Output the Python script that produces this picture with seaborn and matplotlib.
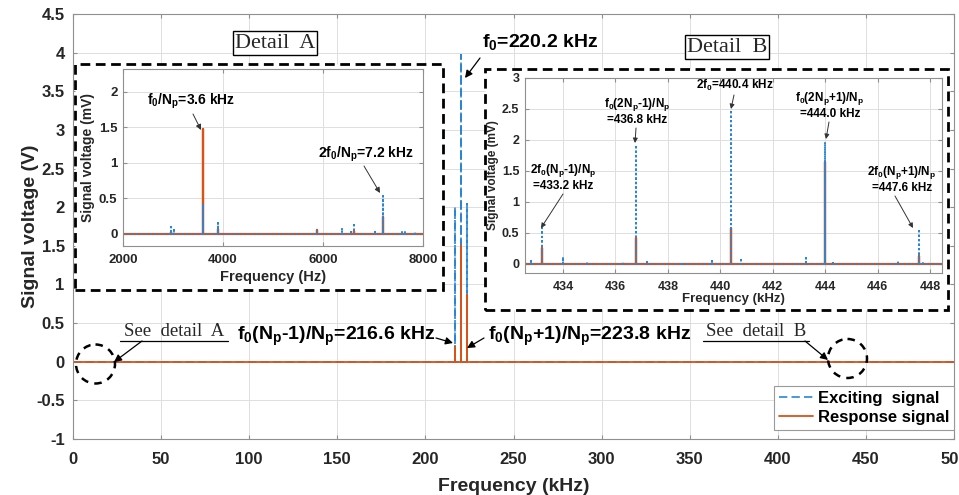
import numpy as np
import pandas as pd
import matplotlib
matplotlib.use("Agg")
import matplotlib.pyplot as plt
import seaborn as sns
from matplotlib.patches import Rectangle, Ellipse

# ---------------- data ----------------
# main spectrum (kHz, V)
main_freqs = [216.6, 220.2, 223.8]
main_exciting = [2.00, 3.97, 2.04]
main_response = [0.19, 1.50, 0.86]
main_xticks = [0, 50, 100, 150, 200, 250, 300, 350, 400, 450, 500]
main_yticks = [-1, -0.5, 0, 0.5, 1, 1.5, 2, 2.5, 3, 3.5, 4, 4.5]

# detail A (Hz, mV)
a_exc_freqs = [2950, 3020, 3600, 3900, 5870, 6370, 6560, 6620, 7050, 7200, 7580, 7650, 7850]
a_exc_vals = [0.10, 0.05, 0.42, 0.15, 0.03, 0.09, 0.05, 0.16, 0.03, 0.54, 0.04, 0.04, 0.03]
a_res_freqs = [2950, 3600, 3900, 5870, 6620, 7200]
a_res_vals = [0.03, 1.47, 0.07, 0.06, 0.04, 0.24]
a_xticks = [2000, 4000, 6000, 8000]
a_yticks = [0, 0.5, 1, 1.5, 2]

# detail B (kHz, mV)
b_exc_freqs = [432.77, 433.2, 434.0, 434.9, 436.3, 436.8, 437.2, 438.5, 439.7, 440.4,
               440.8, 443.26, 444.0, 444.3, 446.8, 447.6, 447.75]
b_exc_vals = [0.05, 0.58, 0.11, 0.02, 0.03, 1.91, 0.02, 0.01, 0.04, 2.48,
              0.06, 0.09, 1.97, 0.04, 0.04, 0.56, 0.03]
b_res_freqs = [433.2, 436.8, 440.4, 444.0, 447.6]
b_res_vals = [0.25, 0.41, 0.58, 1.65, 0.12]
b_xticks = [434, 436, 438, 440, 442, 444, 446, 448]
b_yticks = [0, 0.5, 1, 1.5, 2, 2.5, 3]

BLUE = "#2a86d4"
ORANGE = "#d95319"
GRID = "#dedede"
SPINE = "#8f8f8f"
TXT = "#262626"

sns.set_style("ticks")
plt.rcParams["font.family"] = ["Liberation Sans", "DejaVu Sans"]
plt.rcParams["font.weight"] = "bold"
plt.rcParams["mathtext.fontset"] = "custom"
plt.rcParams["mathtext.rm"] = "Liberation Sans"
plt.rcParams["mathtext.bf"] = "Liberation Sans:bold"
plt.rcParams["mathtext.it"] = "Liberation Sans:bold"
plt.rcParams["mathtext.default"] = "bf"

W, H = 959, 495


def rect(l, t, r, b):
    return [l / W, 1 - b / H, (r - l) / W, (b - t) / H]


def stems(freqs, vals, lo, hi):
    xs, ys = [lo], [0.0]
    for f, v in sorted(zip(freqs, vals)):
        xs += [f, f, f]
        ys += [0.0, v, 0.0]
    xs.append(hi)
    ys.append(0.0)
    return pd.DataFrame({"freq": xs, "volt": ys})


def style_axes(ax, xticks, yticks, fs, xpad, ypad):
    ax.set_xticks(xticks)
    ax.set_yticks(yticks)
    ax.set_xticklabels(["%g" % t for t in xticks])
    ax.set_yticklabels(["%g" % t for t in yticks])
    ax.grid(True, color=GRID, lw=0.7)
    ax.set_axisbelow(True)
    for s in ax.spines.values():
        s.set_visible(True)
        s.set_color(SPINE)
        s.set_linewidth(0.8)
    ax.tick_params(axis="both", direction="in", length=3, color=SPINE,
                   labelsize=fs, labelcolor=TXT, top=True, right=True)
    ax.tick_params(axis="x", pad=xpad)
    ax.tick_params(axis="y", pad=ypad)
    for lab in ax.get_xticklabels() + ax.get_yticklabels():
        lab.set_fontweight("bold")


fig = plt.figure(figsize=(W / 100, H / 100), dpi=100)

# ---------------- main axes ----------------
ax = fig.add_axes(rect(73, 14, 954, 439))
ax.set_zorder(0)
sns.lineplot(data=stems(main_freqs, main_exciting, 0, 500), x="freq", y="volt",
             sort=False, estimator=None, ax=ax, color=BLUE, lw=1.2,
             linestyle=(0, (5, 2.5)), label="Exciting  signal")
sns.lineplot(data=stems(main_freqs, main_response, 0, 500), x="freq", y="volt",
             sort=False, estimator=None, ax=ax, color=ORANGE, lw=1.3,
             label="Response signal")
ax.set_xlim(0, 500)
ax.set_ylim(-1, 4.5)
style_axes(ax, main_xticks, main_yticks, 12, 9, 6)
ax.set_xlabel("Frequency (kHz)", fontsize=14, fontweight="bold", color=TXT, labelpad=8)
ax.set_ylabel("Signal voltage (V)", fontsize=14, fontweight="bold", color=TXT, labelpad=-2)
leg = ax.legend(loc="lower right", bbox_to_anchor=(1.0, 0.021), frameon=True,
                fancybox=False, framealpha=1, edgecolor="#9a9a9a",
                prop={"weight": "bold", "size": 12}, borderpad=0.3,
                labelspacing=0.25, handlelength=2.0, handletextpad=0.3,
                borderaxespad=0)
leg.get_frame().set_linewidth(0.8)
for t in leg.get_texts():
    t.set_color("black")

# ---------------- dashed frames ----------------
for (l, t, r, b) in [(75, 64, 443, 290), (485, 69, 948, 310)]:
    fig.add_artist(Rectangle((l / W, 1 - b / H), (r - l) / W, (b - t) / H,
                             transform=fig.transFigure, fc="white", ec="black",
                             lw=2.0, ls=(0, (3.5, 2)), zorder=2))

# ---------------- inset A ----------------
axA = fig.add_axes(rect(123, 69, 423, 246))
axA.set_zorder(3)
sns.lineplot(data=stems(a_res_freqs, a_res_vals, 2000, 8000), x="freq", y="volt",
             sort=False, estimator=None, ax=axA, color=ORANGE, lw=1.6)
sns.lineplot(data=stems(a_exc_freqs, a_exc_vals, 2000, 8000), x="freq", y="volt",
             sort=False, estimator=None, ax=axA, color=BLUE, lw=1.4,
             linestyle=(0, (1.0, 1.3)))
axA.set_xlim(2000, 8000)
axA.set_ylim(-0.17, 2.32)
style_axes(axA, a_xticks, a_yticks, 9.5, 6, 4)
axA.set_xlabel("Frequency (Hz)", fontsize=10.5, fontweight="bold", color=TXT, labelpad=3)
axA.set_ylabel("Signal voltage (mV)", fontsize=10, fontweight="bold", color=TXT)
axA.yaxis.set_label_coords((95 - 123) / 300, 0.5)

# ---------------- inset B ----------------
axB = fig.add_axes(rect(525, 78, 942, 273))
axB.set_zorder(3)
sns.lineplot(data=stems(b_res_freqs, b_res_vals, 432.55, 448.46), x="freq", y="volt",
             sort=False, estimator=None, ax=axB, color=ORANGE, lw=1.6)
sns.lineplot(data=stems(b_exc_freqs, b_exc_vals, 432.55, 448.46), x="freq", y="volt",
             sort=False, estimator=None, ax=axB, color=BLUE, lw=1.4,
             linestyle=(0, (1.0, 1.3)))
axB.set_xlim(432.55, 448.46)
axB.set_ylim(-0.15, 3.0)
style_axes(axB, b_xticks, b_yticks, 9, 6, 4)
axB.set_xlabel("Frequency (kHz)", fontsize=9.5, fontweight="bold", color=TXT, labelpad=0)
axB.set_ylabel("Signal voltage (mV)", fontsize=8.5, fontweight="bold", color=TXT)
axB.yaxis.set_label_coords((499 - 525) / 417, 0.5)

# ---------------- overlay for annotations (pixel coordinates) ----------------
ov = fig.add_axes([0, 0, 1, 1])
ov.set_zorder(10)
ov.set_xlim(0, W)
ov.set_ylim(H, 0)
ov.axis("off")
ov.patch.set_alpha(0)


def arrow(x0, y0, x1, y1, lw=0.9, ms=11, color="black"):
    ov.annotate("", xy=(x1, y1), xytext=(x0, y0),
                arrowprops=dict(arrowstyle="-|>", color=color, lw=lw,
                                mutation_scale=ms, shrinkA=0, shrinkB=0))


def label(x, y, s, fs, ha="center", **kw):
    ov.text(x, y, s, fontsize=fs, fontweight="bold", ha=ha, va="center",
            color="black", **kw)


# main annotations
label(482, 42, r"f$_0$=220.2 kHz", 14, ha="left")
arrow(480, 58, 465, 78)
label(435, 336, r"f$_0$(N$_p$-1)/N$_p$=216.6 kHz", 14, ha="right")
arrow(436, 338, 453, 343)
label(488, 336, r"f$_0$(N$_p$+1)/N$_p$=223.8 kHz", 14, ha="left")
arrow(484, 338, 467, 348)

# detail labels
for (x, y, s) in [(275, 43, "Detail  A"), (727, 47, "Detail  B")]:
    ov.text(x, y, s, fontsize=16, family="Liberation Serif", fontweight="normal",
            ha="center", va="center",
            bbox=dict(boxstyle="square,pad=0.1", fc="white", ec="black", lw=1.0))

# see detail texts with underline
for (x0, x1, s) in [(120, 228, "See  detail  A"), (703, 809, "See  detail  B")]:
    ov.text((x0 + x1) / 2, 331, s, fontsize=13.5, family="Liberation Serif",
            fontweight="normal", ha="center", va="center")
    ov.plot([x0, x1], [341, 341], color="black", lw=0.9)
arrow(142, 341, 114, 362)
arrow(805, 341, 828, 360)
for (cx, cy) in [(95.5, 364), (847.5, 358.5)]:
    ov.add_patch(Ellipse((cx, cy), 39, 39, fc="none", ec="black", lw=1.8,
                         ls=(0, (3, 2.5))))

# inset A annotations
label(191, 101, r"f$_0$/N$_p$=3.6 kHz", 10)
arrow(193, 114, 201, 130, lw=0.7, ms=8, color="#333333")
label(366, 154, r"2f$_0$/N$_p$=7.2 kHz", 10)
arrow(364, 166, 380, 193, lw=0.7, ms=8, color="#333333")

# inset B annotations
label(735, 85, r"2f$_0$=440.4 kHz", 8.5)
arrow(734, 95, 731, 109, lw=0.7, ms=7, color="#333333")
label(637, 111, "f$_0$(2N$_p$-1)/N$_p$\n=436.8 kHz", 8.5, linespacing=1.1)
arrow(636, 128, 635, 143, lw=0.7, ms=7, color="#333333")
label(830, 105, "f$_0$(2N$_p$+1)/N$_p$\n=444.0 kHz", 8.5, linespacing=1.1)
arrow(829, 122, 826, 139, lw=0.7, ms=7, color="#333333")
label(563, 177, "2f$_0$(N$_p$-1)/N$_p$\n=433.2 kHz", 8.5, linespacing=1.1)
arrow(563, 194, 541, 228, lw=0.7, ms=7, color="#333333")
label(902, 179, "2f$_0$(N$_p$+1)/N$_p$\n=447.6 kHz", 8.5, linespacing=1.1)
arrow(895, 196, 913, 228, lw=0.7, ms=7, color="#333333")

fig.savefig("out.png", dpi=100)
